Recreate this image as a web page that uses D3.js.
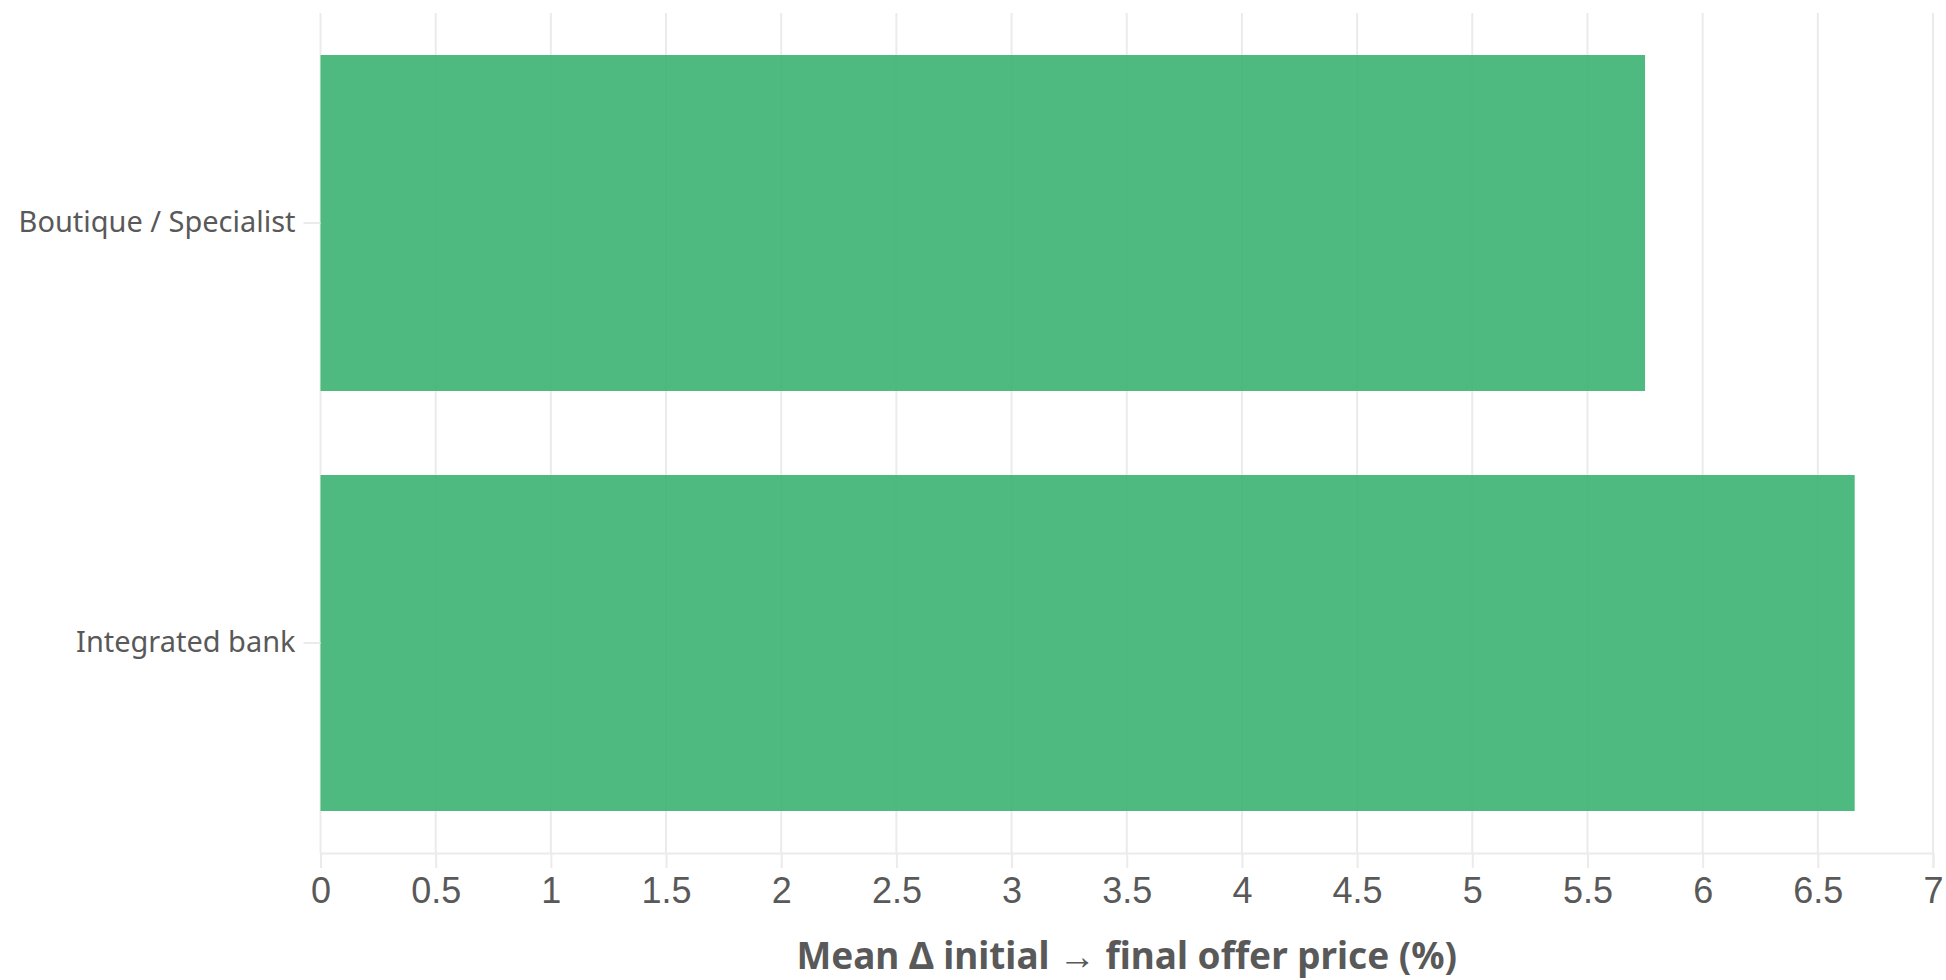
<!DOCTYPE html>
<html>
<head>
<meta charset="utf-8">
<script src="https://cdn.jsdelivr.net/npm/d3@7"></script>
<style>
  html, body { margin: 0; padding: 0; background: #fff; }
  svg { display: block; }
</style>
</head>
<body>
<svg id="chart" width="1946" height="980"></svg>
<script>
const categories = ["Boutique / Specialist", "Integrated bank"];
const values = [5.75, 6.66];
const xTicks = [0, 0.5, 1, 1.5, 2, 2.5, 3, 3.5, 4, 4.5, 5, 5.5, 6, 6.5, 7];
const xTitle = "Mean Δ initial → final offer price (%)";

const svg = d3.select("#chart");
const margin = { left: 320.5, right: 13, top: 13, bottom: 127 };
const W = 1946, H = 980;

const x = d3.scaleLinear().domain([0, 7]).range([margin.left, W - margin.right]);
const y = d3.scaleBand().domain(categories).range([margin.top, H - margin.bottom])
  .paddingInner(0.2).paddingOuter(0.1);

const gridColor = "#ebebeb";
const textColor = "#595959";

// gridlines
svg.append("g").selectAll("line").data(xTicks).join("line")
  .attr("x1", d => x(d)).attr("x2", d => x(d))
  .attr("y1", margin.top).attr("y2", H - margin.bottom)
  .attr("stroke", gridColor).attr("stroke-width", 2);

// bars
svg.append("g").selectAll("rect").data(categories).join("rect")
  .attr("x", x(0))
  .attr("y", d => y(d))
  .attr("width", (d, i) => x(values[i]) - x(0))
  .attr("height", y.bandwidth())
  .attr("fill", "#3cb371")
  .attr("fill-opacity", 0.9);

// x axis
const xAxis = svg.append("g").attr("transform", `translate(0,${H - margin.bottom})`)
  .call(d3.axisBottom(x).tickValues(xTicks).tickSize(15).tickPadding(9)
    .tickFormat(d => String(d)));
xAxis.select(".domain").attr("stroke", gridColor).attr("stroke-width", 2);
xAxis.selectAll(".tick line").attr("stroke", gridColor).attr("stroke-width", 2);
xAxis.selectAll(".tick text")
  .attr("fill", textColor)
  .style("font-family", "'Liberation Sans', Arial, sans-serif")
  .style("font-size", "36px");

// y axis
const yAxis = svg.append("g").attr("transform", `translate(${margin.left},0)`)
  .call(d3.axisLeft(y).tickSize(17).tickPadding(8));
yAxis.select(".domain").remove();
yAxis.selectAll(".tick line").attr("stroke", gridColor).attr("stroke-width", 2);
yAxis.selectAll(".tick text")
  .attr("fill", textColor)
  .attr("dy", "0.3em")
  .style("font-family", "'Noto Sans', 'Open Sans', sans-serif")
  .style("font-size", "26px");

// fit category label width (~277px for the first label)
(function fitY() {
  const t = yAxis.selectAll(".tick text").nodes()[0];
  const w = t.getComputedTextLength();
  const fs = 26 * 277 / w;
  yAxis.selectAll(".tick text").style("font-size", fs + "px");
})();

// x title
const title = svg.append("text")
  .attr("x", (x(0) + x(7)) / 2)
  .attr("y", 969)
  .attr("text-anchor", "middle")
  .attr("fill", textColor)
  .style("font-family", "'Noto Sans', 'Open Sans', sans-serif")
  .style("font-weight", "bold")
  .style("font-size", "34px")
  .text(xTitle);
(function fitT() {
  const w = title.node().getComputedTextLength();
  title.style("font-size", (34 * 661 / w) + "px");
})();
</script>
</body>
</html>
